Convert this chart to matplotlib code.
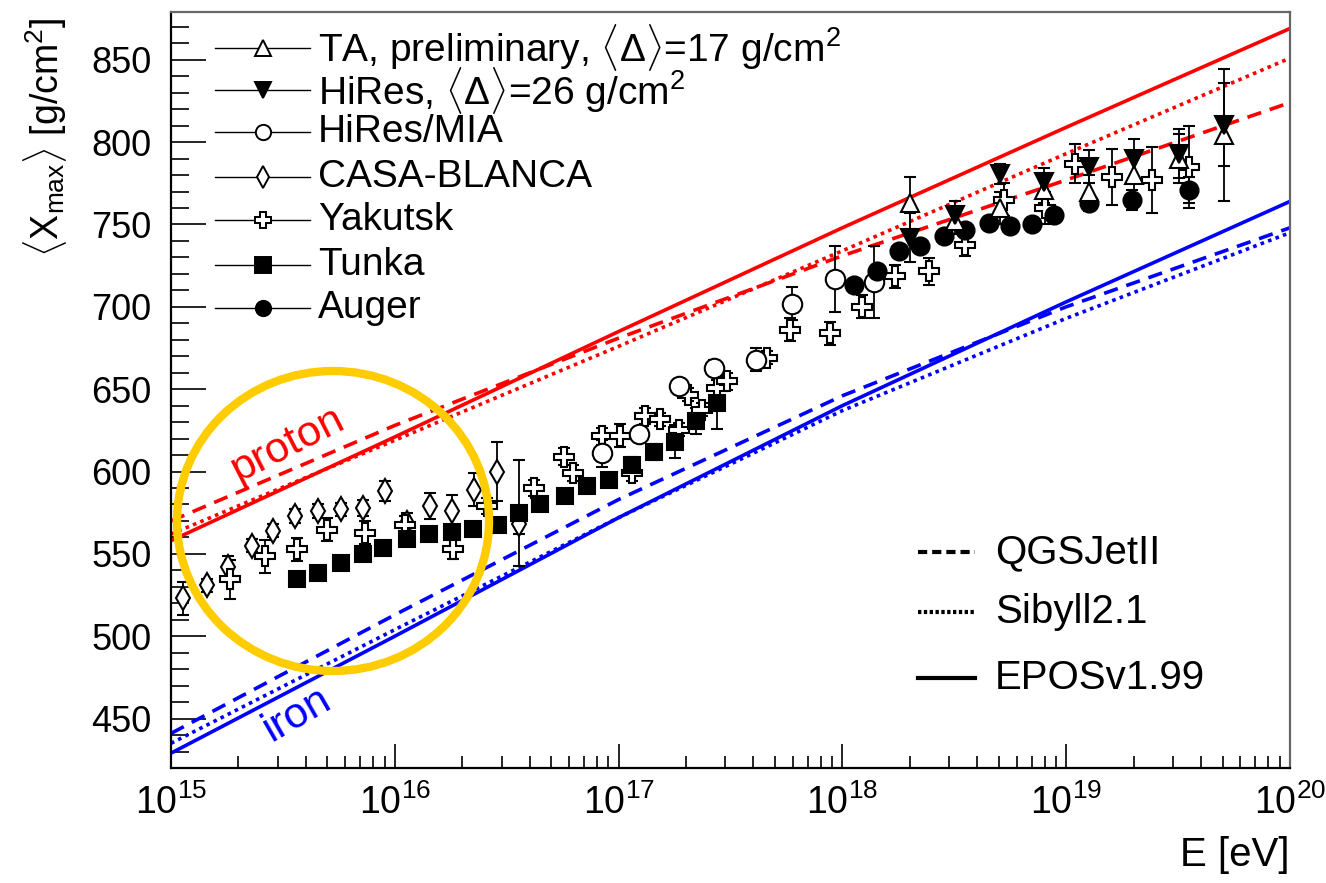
import numpy as np
import matplotlib.pyplot as plt
from matplotlib.lines import Line2D
from matplotlib.patches import Ellipse
from matplotlib.ticker import MultipleLocator, LogLocator, NullFormatter

plt.rcParams['font.family'] = ['Liberation Sans', 'DejaVu Sans']
plt.rcParams['mathtext.fontset'] = 'custom'
plt.rcParams['mathtext.rm'] = 'Liberation Sans'
plt.rcParams['mathtext.it'] = 'Liberation Sans:italic'
plt.rcParams['mathtext.bf'] = 'Liberation Sans:bold'

# model predictions (log10 E in eV)
model_logE = [15, 16, 17, 18, 19, 20]
p_epos = [558, 621, 685, 748, 809, 869]
p_qgs = [570, 628, 681, 731, 777, 824]
p_sib = [562, 619, 676, 734, 793, 851]
fe_epos = [429, 500, 572, 640, 703, 764]
fe_qgs = [441, 513, 583, 646, 700, 748]
fe_sib = [435, 504, 572, 637, 693, 745]

# measurements: log10 E, <Xmax>, error
casa_logE = [15.055, 15.16, 15.256, 15.361, 15.457, 15.554, 15.659, 15.759, 15.857,
             15.957, 16.054, 16.158, 16.255, 16.352, 16.456, 16.553]
casa_x = [523, 531, 542, 555, 564, 573, 576, 577, 578, 588, 569, 579, 576, 589, 600, 568]
casa_err = [10, 4, 7, 4, 4, 4, 4, 4, 5, 6, 6, 8, 10, 10, 18, 6]

tunka_logE = [15.562, 15.659, 15.759, 15.857, 15.949, 16.054, 16.155, 16.255, 16.349, 16.463,
              16.557, 16.65, 16.761, 16.858, 16.955, 17.06, 17.156, 17.253, 17.347, 17.439]
tunka_x = [534.5, 538.5, 544.6, 550.2, 553.7, 559.2, 561.8, 563.4, 565.2, 567.8,
           574.9, 580, 585, 591, 595, 604, 612, 618, 630.5, 641.7]
tunka_err = [3, 3, 3, 3, 3, 3, 3, 4, 4, 4, 32, 4, 4, 4, 4, 5, 5, 10, 8, 16]

mia_logE = [16.925, 17.089, 17.268, 17.427, 17.615, 17.775, 17.968, 18.14]
mia_x = [611, 622.5, 652, 663, 668, 702, 717, 715]
mia_err = [8, 4, 4, 5, 7, 10, 20, 22]

yak_logE = [15.264, 15.42, 15.562, 15.696, 15.867, 16.046, 16.262, 16.411, 16.62, 16.754,
            16.798, 16.925, 17.007, 17.06, 17.119, 17.186, 17.268, 17.312, 17.372, 17.439,
            17.484, 17.663, 17.767, 17.946, 18.087, 18.237, 18.386, 18.549, 18.72, 18.907,
            19.041, 19.205, 19.384, 19.548]
yak_x = [534.5, 548.6, 552.7, 564.8, 562.8, 567.8, 552.7, 579, 590, 609,
         599, 621.4, 621.8, 599, 633.6, 631.6, 625.5, 646.7, 637.6, 650.8,
         654.8, 669, 686, 684, 700, 718.5, 721.5, 737.7, 765, 760,
         787, 779, 777, 785]
yak_err = [12, 10, 7, 7, 7, 5, 6, 5, 5, 5,
           5, 5, 7, 5, 5, 4, 4, 4, 4, 5,
           5, 4, 7, 7, 7, 7, 8, 7, 10, 10,
           12, 17, 20, 25]

auger_logE = [18.05, 18.155, 18.252, 18.348, 18.453, 18.549, 18.653, 18.751, 18.847,
              18.947, 19.1, 19.294, 19.548]
auger_x = [713.5, 721.5, 733.7, 736.7, 743.2, 746.8, 751, 749.3, 750, 756, 763, 765, 771]
auger_err = [3, 3, 3, 3, 3, 3, 3, 3, 4, 4, 5, 6, 8]

hires_logE = [18.304, 18.505, 18.706, 18.9, 19.1, 19.302, 19.503, 19.703]
hires_x = [742, 756, 780.5, 776, 785, 790, 793, 810.6]
hires_err = [15, 8, 6, 8, 10, 12, 15, 25]

ta_logE = [18.304, 18.505, 18.706, 18.9, 19.1, 19.302, 19.503, 19.703]
ta_x = [763, 752, 760, 771, 770, 780, 790, 804.5]
ta_err = [16, 8, 10, 8, 10, 12, 15, 40]

fig = plt.figure(figsize=(13.26, 8.83), dpi=100)
ax = fig.add_axes([171 / 1326, 115 / 883, 1119 / 1326, 756 / 883])

E_model = 10.0 ** np.array(model_logE)
lw = 2.6
ax.plot(E_model, p_epos, color='red', lw=lw, ls='-', zorder=2)
ax.plot(E_model, p_qgs, color='red', lw=lw, ls=(0, (4, 2.5)), zorder=2)
ax.plot(E_model, p_sib, color='red', lw=lw, ls=(0, (1, 1.2)), zorder=2)
ax.plot(E_model, fe_epos, color='blue', lw=lw, ls='-', zorder=2)
ax.plot(E_model, fe_qgs, color='blue', lw=lw, ls=(0, (4, 2.5)), zorder=2)
ax.plot(E_model, fe_sib, color='blue', lw=lw, ls=(0, (1, 1.2)), zorder=2)

# data sets: (logE, x, err, marker, size, facecolor)
datasets = [
    (casa_logE, casa_x, casa_err, 'd', 12, 'white'),
    (yak_logE, yak_x, yak_err, 'P', 15, 'white'),
    (mia_logE, mia_x, mia_err, 'o', 14, 'white'),
    (tunka_logE, tunka_x, tunka_err, 's', 12, 'black'),
    (auger_logE, auger_x, auger_err, 'o', 13, 'black'),
    (ta_logE, ta_x, ta_err, '^', 13, 'white'),
    (hires_logE, hires_x, hires_err, 'v', 13, 'black'),
]
for logE, xm, err, mk, ms, fc in datasets:
    ax.errorbar(10.0 ** np.array(logE), xm, yerr=err, fmt=mk, ms=ms, mfc=fc, mec='black',
                mew=1.5, ecolor='black', elinewidth=1.3, capsize=4, capthick=1.3, zorder=3)

ax.set_xscale('log')
ax.set_xlim(1e15, 1e20)
ax.set_ylim(420, 879)

ax.yaxis.set_major_locator(MultipleLocator(50))
ax.yaxis.set_minor_locator(MultipleLocator(10))
ax.xaxis.set_major_locator(LogLocator(base=10, numticks=10))
ax.xaxis.set_minor_locator(LogLocator(base=10, subs=np.arange(2, 10), numticks=20))
ax.xaxis.set_minor_formatter(NullFormatter())

ax.tick_params(axis='y', which='major', direction='in', length=25, width=1.2, labelsize=26, pad=14)
ax.tick_params(axis='y', which='minor', direction='in', length=13, width=1.2)
ax.tick_params(axis='x', which='major', direction='in', length=17, width=1.2, labelsize=27, pad=12)
ax.tick_params(axis='x', which='minor', direction='in', length=9, width=1.2)
ax.tick_params(top=False, right=False, which='both')

for side in ['left', 'bottom']:
    ax.spines[side].set_linewidth(1.6)
for side in ['top', 'right']:
    ax.spines[side].set_color('#666666')
    ax.spines[side].set_linewidth(1.6)

fig.text(45 / 1326, 1 - 18 / 883, r'$\langle$X$_{\mathrm{max}}\rangle$ [g/cm$^2$]',
         rotation=90, ha='center', va='top', fontsize=27)
fig.text(1290 / 1326, 1 - 855 / 883, 'E [eV]', ha='right', va='center', fontsize=29)

# legend for the data (top left)
legend_rows = [
    (r'TA, preliminary, $\langle\Delta\rangle$=17 g/cm$^2$', '^', 'white'),
    (r'HiRes, $\langle\Delta\rangle$=26 g/cm$^2$', 'v', 'black'),
    ('HiRes/MIA', 'o', 'white'),
    ('CASA-BLANCA', 'd', 'white'),
    ('Yakutsk', 'P', 'white'),
    ('Tunka', 's', 'black'),
    ('Auger', 'o', 'black'),
]
row_y = [0.953, 0.8968, 0.8413, 0.7817, 0.7249, 0.6653, 0.6085]
for (label, mk, fc), yy in zip(legend_rows, row_y):
    ax.add_line(Line2D([0.0393, 0.1242], [yy, yy], transform=ax.transAxes, color='black', lw=1.0))
    ax.add_line(Line2D([0.0818], [yy], transform=ax.transAxes, marker=mk, ms=11, mfc=fc,
                       mec='black', mew=1.4, ls='none'))
    ax.text(0.1314, yy, label, transform=ax.transAxes, ha='left', va='center', fontsize=28)

# legend for the models (bottom right)
model_rows = [('QGSJetII', (0, (2.2, 1.2)), 0.2857),
              ('Sibyll2.1', (0, (0.8, 0.6)), 0.2063),
              ('EPOSv1.99', '-', 0.1190)]
for label, style, yy in model_rows:
    ax.add_line(Line2D([0.6676, 0.7185], [yy, yy], transform=ax.transAxes, color='black',
                       lw=3, ls=style))
    ax.text(0.7364, yy, label, transform=ax.transAxes, ha='left', va='center', fontsize=29)

ax.text(0.1037, 0.4272, 'proton', transform=ax.transAxes, color='red', fontsize=31,
        rotation=27, ha='center', va='center')
ax.text(0.1126, 0.0701, 'iron', transform=ax.transAxes, color='blue', fontsize=31,
        rotation=30, ha='center', va='center')

# highlight circle
ring = Ellipse((333 / 1326, 1 - 521 / 883), 312 / 1326, 300 / 883, transform=fig.transFigure,
               fill=False, edgecolor='#FFCC00', lw=6, zorder=10)
fig.add_artist(ring)

fig.savefig('out.png', dpi=100)
